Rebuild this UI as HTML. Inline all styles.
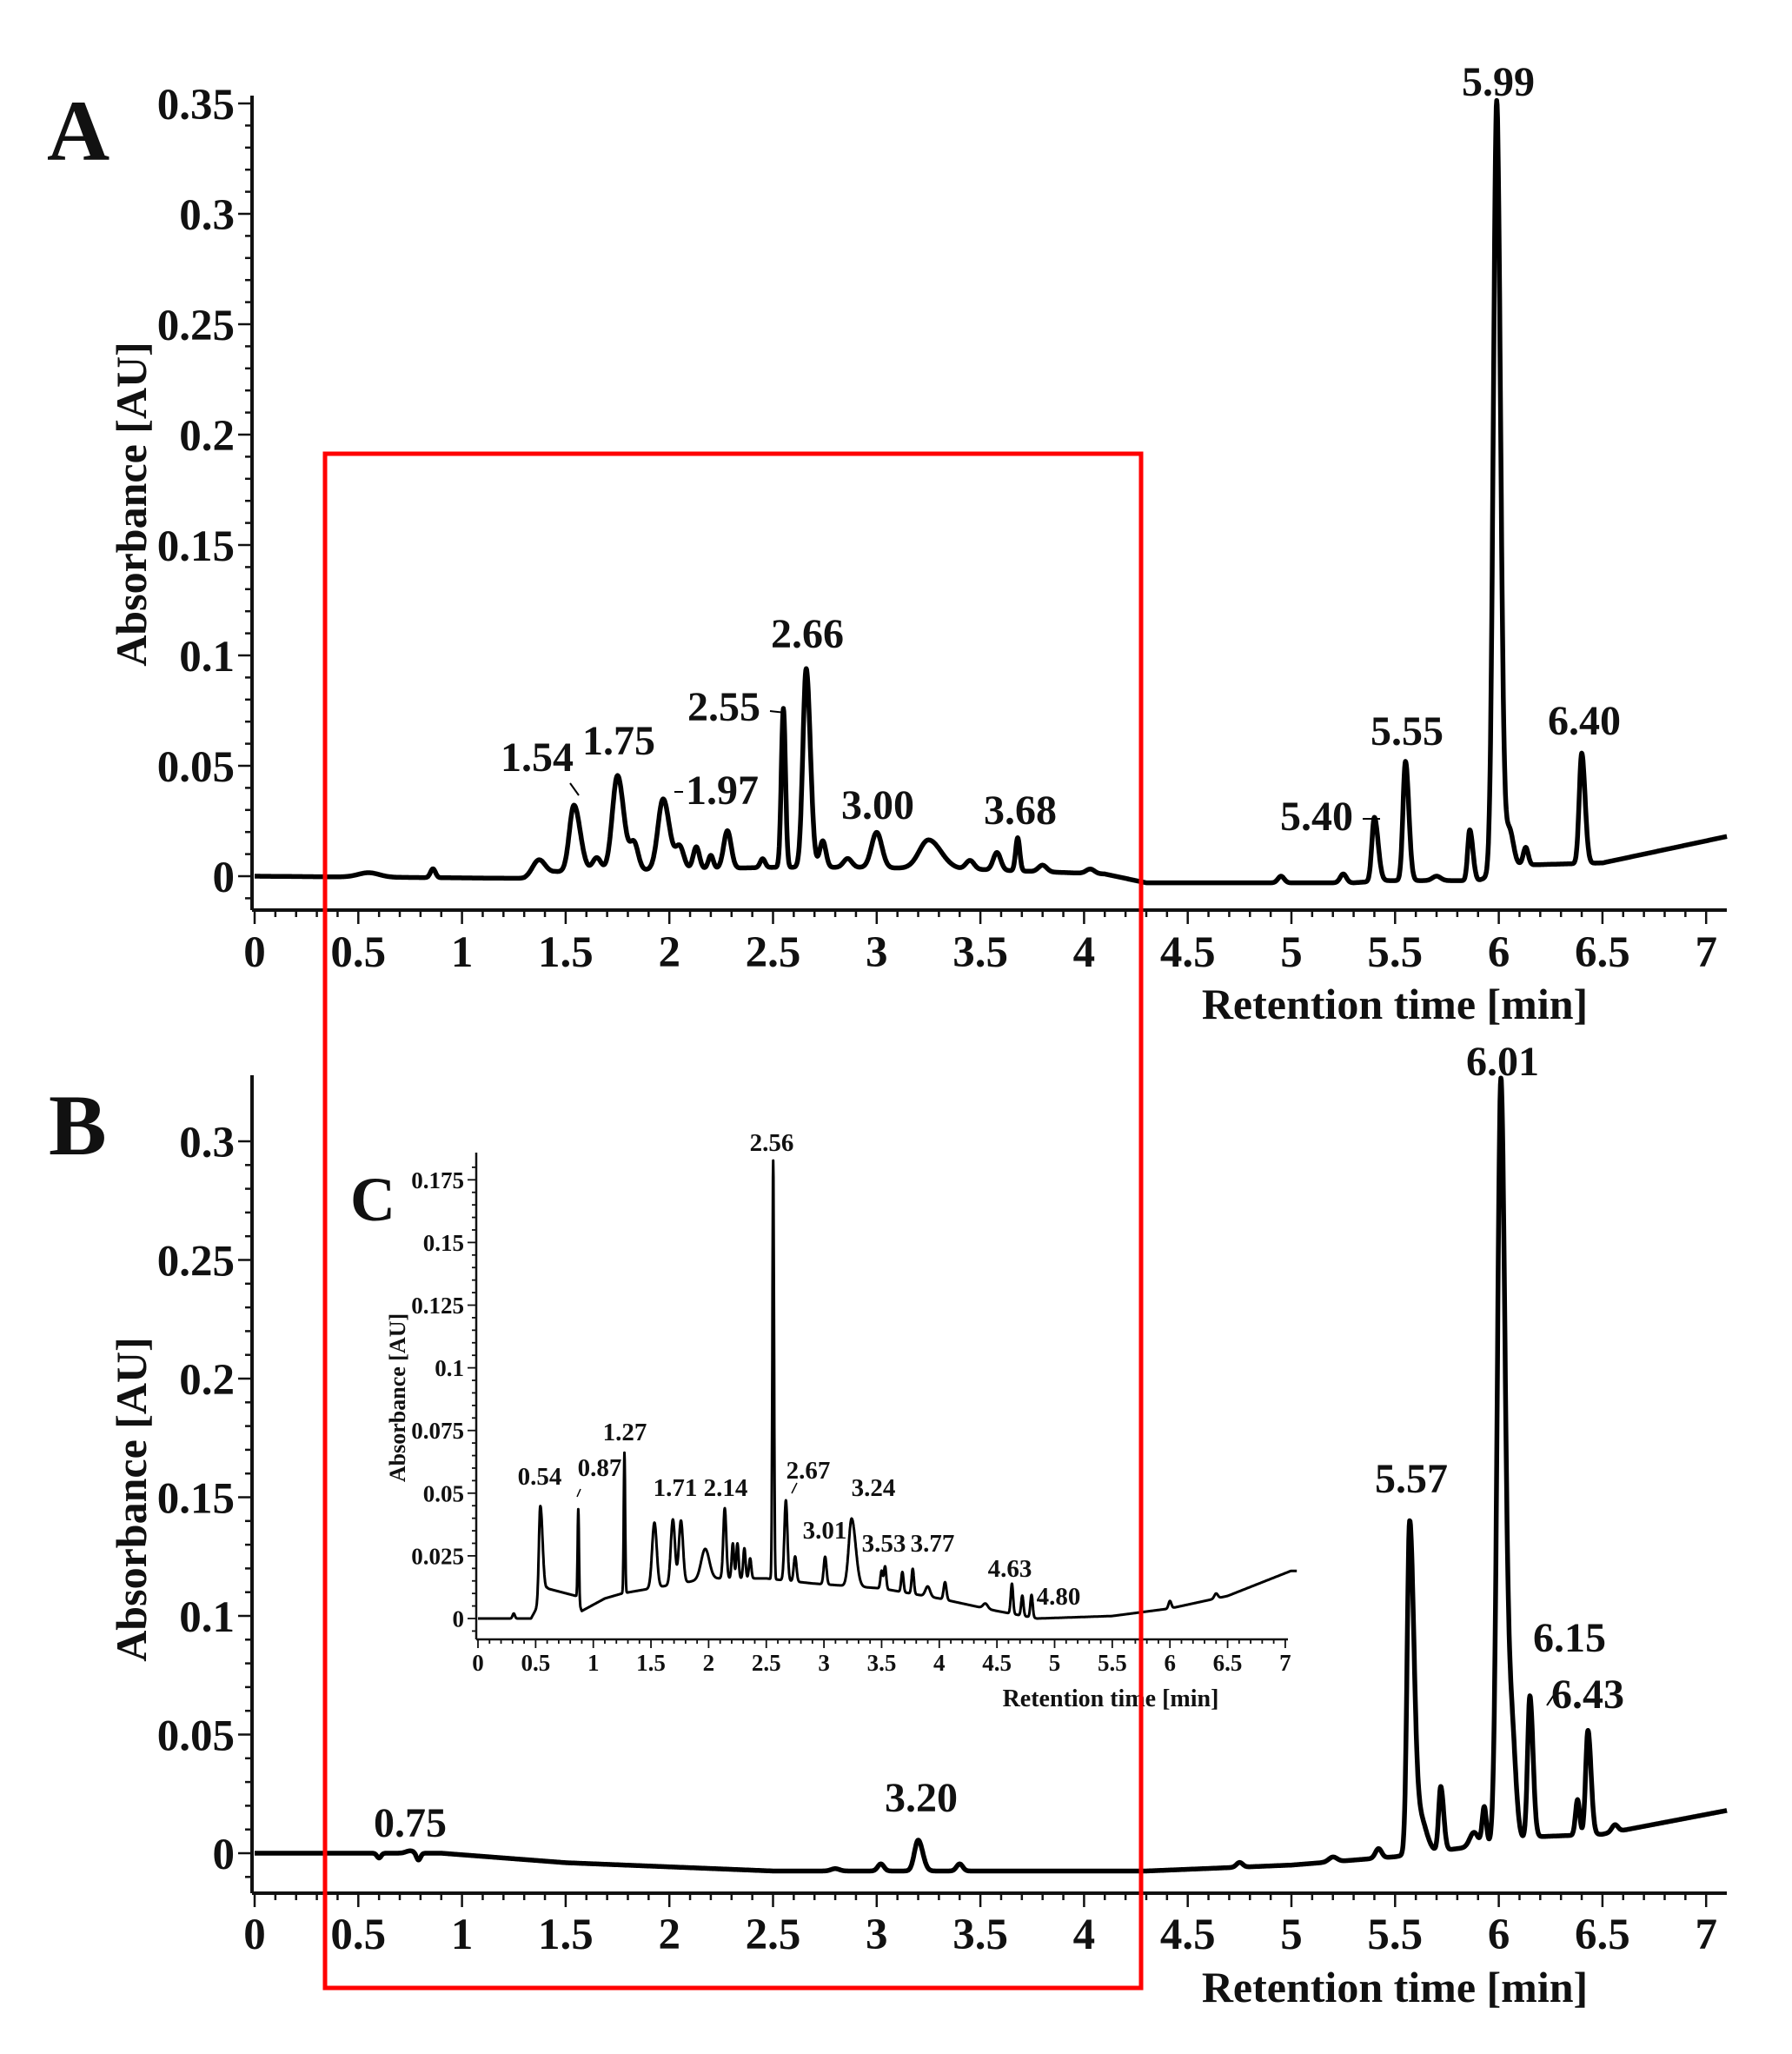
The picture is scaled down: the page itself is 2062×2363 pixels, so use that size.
<!DOCTYPE html>
<html><head><meta charset="utf-8"><style>
html,body{margin:0;padding:0;background:#fff}
svg{display:block}
text{font-family:"Liberation Serif",serif;font-weight:bold;fill:#111}
</style></head><body>
<svg id="s" width="2062" height="2363" viewBox="0 0 2062 2363" xmlns="http://www.w3.org/2000/svg">
<g id="g"></g>
<text x="54" y="184" font-size="100">A</text>
<text x="56" y="1328" font-size="100">B</text>
<text x="403" y="1404" font-size="72">C</text>
<text transform="translate(168,580) rotate(-90)" text-anchor="middle" font-size="50">Absorbance [AU]</text>
<text transform="translate(168,1725) rotate(-90)" text-anchor="middle" font-size="50">Absorbance [AU]</text>
<text transform="translate(466,1608) rotate(-90)" text-anchor="middle" font-size="26">Absorbance [AU]</text>
<text x="1605" y="1172" text-anchor="middle" font-size="50">Retention time [min]</text>
<text x="1605" y="2303" text-anchor="middle" font-size="50">Retention time [min]</text>
<text x="1278" y="1963" text-anchor="middle" font-size="28">Retention time [min]</text>
<g font-size="48" text-anchor="middle">
<text x="618" y="887">1.54</text><text x="712" y="868">1.75</text><text x="831" y="925">1.97</text>
<text x="833" y="829">2.55</text><text x="929" y="745">2.66</text><text x="1010" y="942">3.00</text>
<text x="1174" y="948">3.68</text><text x="1515" y="955">5.40</text><text x="1619" y="857">5.55</text>
<text x="1724" y="110">5.99</text><text x="1823" y="845">6.40</text>
<text x="472" y="2113">0.75</text><text x="1060" y="2084">3.20</text><text x="1624" y="1717">5.57</text>
<text x="1729" y="1237">6.01</text><text x="1806" y="1900">6.15</text><text x="1827" y="1965">6.43</text>
</g>
<g font-size="29" text-anchor="middle">
<text x="621" y="1708">0.54</text><text x="690" y="1698">0.87</text><text x="719" y="1657">1.27</text>
<text x="777" y="1721">1.71</text><text x="835" y="1721">2.14</text><text x="888" y="1324">2.56</text>
<text x="930" y="1701">2.67</text><text x="949" y="1770">3.01</text><text x="1005" y="1721">3.24</text>
<text x="1017" y="1785">3.53</text><text x="1073" y="1785">3.77</text><text x="1162" y="1814">4.63</text>
<text x="1218" y="1846">4.80</text>
</g>
<rect x="374" y="522" width="939" height="1765" fill="none" stroke="#f00" stroke-width="5"/>
</svg>
<script>
var g=document.getElementById('g'),NS='http://www.w3.org/2000/svg';
function el(t,a,txt){var e=document.createElementNS(NS,t);for(var k in a)e.setAttribute(k,a[k]);if(txt!=null)e.textContent=txt;g.appendChild(e);return e;}
function gs(t,pk){var v=0;for(var i=0;i<pk.length;i++){var p=pk[i],d=(t-p[0])/(t<p[0]?p[2]:(p[3]||p[2]));v+=p[1]*Math.exp(-0.5*d*d);}return v;}
function interp(t,b){if(t<=b[0][0])return b[0][1];for(var i=1;i<b.length;i++){if(t<=b[i][0]){var a=b[i-1],c=b[i];return a[1]+(c[1]-a[1])*(t-a[0])/(c[0]-a[0]);}}return b[b.length-1][1];}
function axes(o){
 el('line',{x1:o.ax,y1:o.ytop,x2:o.ax,y2:o.ybot,stroke:'#111','stroke-width':o.lw});
 el('line',{x1:o.ax,y1:o.ybot,x2:o.xend,y2:o.ybot,stroke:'#111','stroke-width':o.lw});
 for(var v=o.ymin;v<=o.ymax+1e-9;v+=o.yminor){var y=o.y0-v*o.sy;if(y<o.ytop||y>o.ybot)continue;var maj=Math.abs(v/o.ymaj-Math.round(v/o.ymaj))<1e-6;
  el('line',{x1:o.ax-(maj?o.tl:o.tl/2),y1:y,x2:o.ax,y2:y,stroke:'#111','stroke-width':o.tw});
  if(maj)el('text',{x:o.ax-o.tl-4,y:y+o.fs*0.35,'font-size':o.fs,'text-anchor':'end'},o.fmt(v));}
 for(var i=0;i<=71;i++){var t=i/10,x=o.x0+t*o.sx;if(x>o.xend)break;var maj=i%5==0;
  el('line',{x1:x,y1:o.ybot,x2:x,y2:o.ybot+(maj?o.tl:o.tl/2),stroke:'#111','stroke-width':o.tw});
  if(maj)el('text',{x:x,y:o.xly,'font-size':o.fs,'text-anchor':'middle'},String(+(t.toFixed(1))));}
}
function trace(o,pk,base,lw){var d='';for(var t=0;t<=7.1;t+=0.002){var v=gs(t,pk)+interp(t,base);var x=o.x0+t*o.sx,y=o.y0-v*o.sy;d+=(d?'L':'M')+x.toFixed(1)+' '+y.toFixed(1);}
 el('path',{d:d,fill:'none',stroke:'#000','stroke-width':lw,'stroke-linejoin':'round'});}
function f2(v){var s=v.toFixed(3).replace(/0+$/,'').replace(/\.$/,'');return s=='0.000'?'0':s;}
var A={ax:290,ytop:110,ybot:1047,xend:1987,y0:1008,sy:2540,x0:293,sx:238.6,ymin:-0.01,ymax:0.35,yminor:0.01,ymaj:0.05,tl:16,tw:2.5,lw:4,fs:51,xly:1112,fmt:f2};
axes(A);
trace(A,[[0.55,0.002,0.05],[0.86,0.004,0.012],[1.37,0.007,0.03],[1.54,0.03,0.022,0.03],[1.65,0.006,0.02],[1.75,0.043,0.025,0.03],[1.83,0.012,0.02],[1.97,0.032,0.025,0.03],[2.05,0.01,0.02],[2.13,0.01,0.015],[2.2,0.006,0.012],[2.28,0.017,0.018],[2.45,0.004,0.012],[2.55,0.072,0.01],[2.66,0.09,0.016,0.02],[2.74,0.012,0.015],[2.86,0.004,0.02],[3.0,0.016,0.025],[3.25,0.013,0.045,0.06],[3.45,0.004,0.02],[3.58,0.008,0.018],[3.68,0.015,0.01],[3.8,0.003,0.02],[4.03,0.002,0.02],[4.95,0.003,0.015],[5.25,0.004,0.015],[5.40,0.029,0.012,0.018],[5.55,0.054,0.012,0.016],[5.7,0.002,0.02],[5.86,0.023,0.01,0.015],[5.99,0.35,0.016,0.018],[6.05,0.018,0.02],[6.13,0.008,0.012],[6.40,0.05,0.012,0.016]],
 [[0,0],[1.3,-0.001],[1.45,0.002],[2.5,0.004],[2.9,0.004],[3.5,0.003],[4.1,0.001],[4.3,-0.003],[5.3,-0.003],[5.45,-0.002],[5.9,-0.002],[6.1,0.005],[6.5,0.006],[7.1,0.018]],5.5);
var B={ax:290,ytop:1237,ybot:2178,xend:1987,y0:2132,sy:2730,x0:293,sx:238.6,ymin:-0.01,ymax:0.3,yminor:0.01,ymaj:0.05,tl:16,tw:2.5,lw:4,fs:51,xly:2242,fmt:f2};
axes(B);
trace(B,[[0.6,-0.002,0.01],[0.75,0.001,0.02],[0.79,-0.003,0.01],[2.8,0.001,0.02],[3.02,0.003,0.015],[3.20,0.013,0.018,0.022],[3.40,0.003,0.015],[4.75,0.002,0.015],[5.2,0.002,0.02],[5.42,0.004,0.015],[5.57,0.137,0.012,0.02],[5.62,0.015,0.03],[5.72,0.027,0.01,0.014],[5.88,0.006,0.02],[5.93,0.016,0.01],[6.01,0.32,0.017,0.02],[6.06,0.05,0.02],[6.15,0.060,0.011,0.015],[6.38,0.015,0.01],[6.43,0.044,0.011,0.015],[6.56,0.003,0.015]],
 [[0,0],[0.9,0],[1.5,-0.004],[2.5,-0.0075],[4.3,-0.0075],[5.0,-0.005],[5.5,-0.0015],[5.62,0.0],[5.9,0.003],[6.2,0.007],[6.5,0.008],[7.1,0.018]],5.5);
var C={ax:548,ytop:1326,ybot:1886,xend:1482,y0:1862,sy:2884,x0:550,sx:132.7,ymin:-0.005,ymax:0.18,yminor:0.005,ymaj:0.025,tl:10,tw:1.8,lw:2.5,fs:27,xly:1922,fmt:f2};
axes(C);
trace(C,[[0.31,0.002,0.01],[0.54,0.038,0.012,0.02],[0.87,0.037,0.006],[1.27,0.056,0.006],[1.53,0.026,0.02],[1.69,0.026,0.018],[1.76,0.025,0.018],[1.97,0.012,0.035],[2.14,0.028,0.013],[2.21,0.014,0.01],[2.25,0.014,0.01],[2.31,0.012,0.01],[2.36,0.008,0.01],[2.56,0.167,0.007],[2.67,0.032,0.013],[2.75,0.01,0.012],[3.01,0.011,0.012],[3.24,0.027,0.025,0.035],[3.5,0.007,0.01],[3.53,0.009,0.01],[3.68,0.008,0.01],[3.77,0.01,0.01],[3.9,0.004,0.02],[4.05,0.007,0.012],[4.4,0.002,0.02],[4.63,0.012,0.01],[4.72,0.008,0.01],[4.80,0.009,0.01],[6.0,0.003,0.012],[6.4,0.002,0.015]],
 [[0,0],[0.46,0],[0.6,0.012],[0.85,0.009],[0.9,0.003],[1.1,0.008],[1.25,0.01],[1.5,0.012],[2.0,0.016],[2.5,0.016],[2.9,0.014],[3.5,0.012],[4.0,0.008],[4.5,0.003],[4.85,0.0],[5.5,0.001],[6.0,0.004],[6.5,0.009],[7.05,0.019]],3);
el('line',{x1:656,y1:901,x2:666,y2:915,stroke:'#000','stroke-width':2});
el('line',{x1:776,y1:911,x2:786,y2:911,stroke:'#000','stroke-width':2});
el('line',{x1:886,y1:818,x2:904,y2:820,stroke:'#000','stroke-width':2});
el('line',{x1:1568,y1:942,x2:1588,y2:942,stroke:'#000','stroke-width':2});
el('line',{x1:1780,y1:1962,x2:1788,y2:1950,stroke:'#000','stroke-width':2});
el('line',{x1:668,y1:1713,x2:664,y2:1722,stroke:'#000','stroke-width':1.5});
el('line',{x1:917,y1:1706,x2:911,y2:1718,stroke:'#000','stroke-width':1.5});
el('line',{x1:1196,y1:1842,x2:1202,y2:1842,stroke:'#000','stroke-width':1.5});
</script>
</body></html>
